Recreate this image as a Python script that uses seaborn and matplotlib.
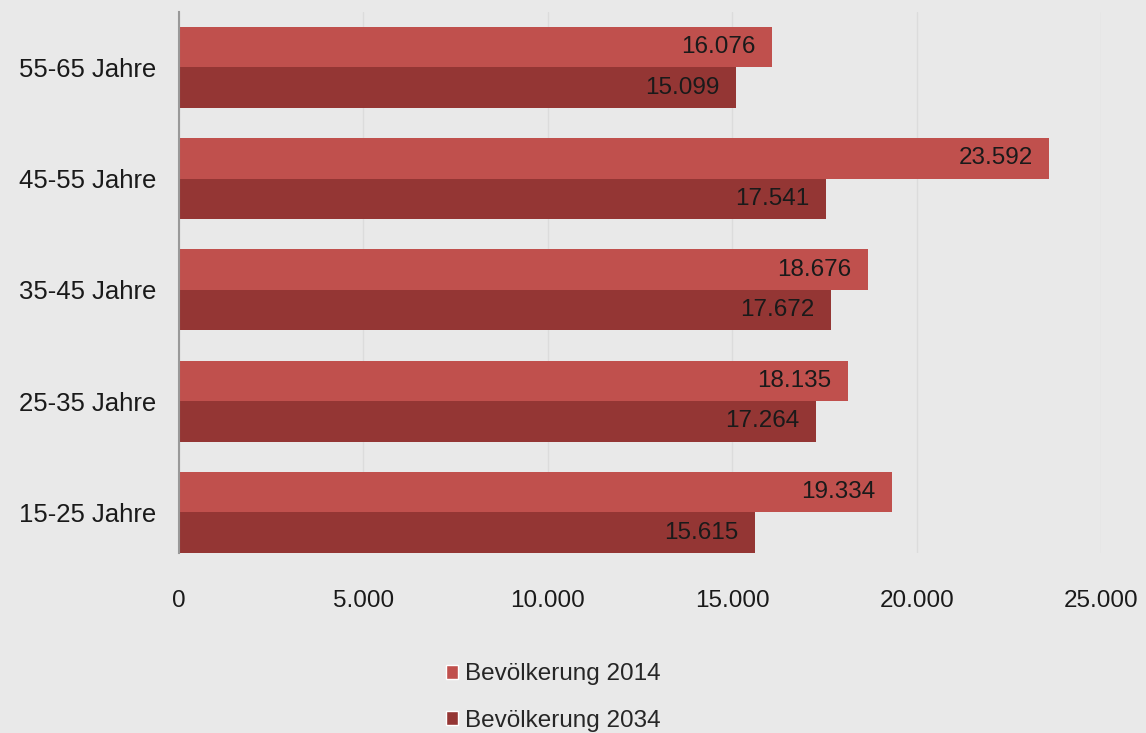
"""
Bevölkerung nach Altersgruppen 2014 vs. 2034 - horizontal grouped bars
"""
import pandas as pd
import matplotlib.pyplot as plt
import seaborn as sns
from matplotlib.ticker import FuncFormatter
from matplotlib.patches import Patch

# ---------------------------------------------------------
# DATA
# ---------------------------------------------------------
groups = ["55-65 Jahre", "45-55 Jahre", "35-45 Jahre", "25-35 Jahre", "15-25 Jahre"]
pop_2014 = [16076, 23592, 18676, 18135, 19334]
pop_2034 = [15099, 17541, 17672, 17264, 15615]
series = ["Bevölkerung 2014", "Bevölkerung 2034"]
colors = ["#C0504D", "#943634"]
x_ticks = [0, 5000, 10000, 15000, 20000, 25000]

df = pd.DataFrame({
    "Gruppe": groups * 2,
    "Wert": pop_2014 + pop_2034,
    "Serie": [series[0]] * len(groups) + [series[1]] * len(groups),
})

def de_fmt(v):
    return f"{int(v):,}".replace(",", ".")

# ---------------------------------------------------------
# PLOT
# ---------------------------------------------------------
sns.set_style("white")
plt.rcParams["font.family"] = ["Liberation Sans", "DejaVu Sans"]
bg = "#E9E9E9"

fig = plt.figure(figsize=(11.46, 7.33), dpi=100, facecolor=bg)
ax = fig.add_axes([0.156, 0.2456, 0.805, 0.7384])
ax.set_facecolor(bg)

sns.barplot(data=df, y="Gruppe", x="Wert", hue="Serie", order=groups,
            hue_order=series, palette=colors, orient="h", width=0.73,
            saturation=1, legend=False, linewidth=0, ax=ax)

for patch in ax.patches:
    w = patch.get_width()
    if w <= 0:
        continue
    ax.text(w - 450, patch.get_y() + patch.get_height() / 2, de_fmt(w),
            ha="right", va="center", fontsize=17.5, color="#1a1a1a")

ax.set_xlim(0, 25000)
ax.set_ylim(len(groups) - 1 + 0.73 / 2, -0.73 / 2 - 0.135)
ax.set_xticks(x_ticks)
ax.xaxis.set_major_formatter(FuncFormatter(lambda v, p: de_fmt(v)))
ax.grid(axis="x", color="#DCDCDC", linewidth=1)
ax.set_axisbelow(True)
for s in ["top", "right", "bottom"]:
    ax.spines[s].set_visible(False)
ax.spines["left"].set_color("#999999")
ax.spines["left"].set_linewidth(1.5)
ax.tick_params(axis="both", length=0, colors="#1a1a1a")
ax.tick_params(axis="x", pad=27, labelsize=17.5)
ax.tick_params(axis="y", pad=16, labelsize=18.5)
ax.set_xlabel("")
ax.set_ylabel("")

handles = [Patch(facecolor=c, label=s) for c, s in zip(colors, series)]
fig.legend(handles=handles, loc="lower left", bbox_to_anchor=(0.370, -0.028),
           frameon=False, fontsize=17.5, handlelength=0.5, handleheight=0.5,
           handletextpad=0.3, labelspacing=1.0, ncol=1)

fig.savefig("out.png", dpi=100, facecolor=bg)
